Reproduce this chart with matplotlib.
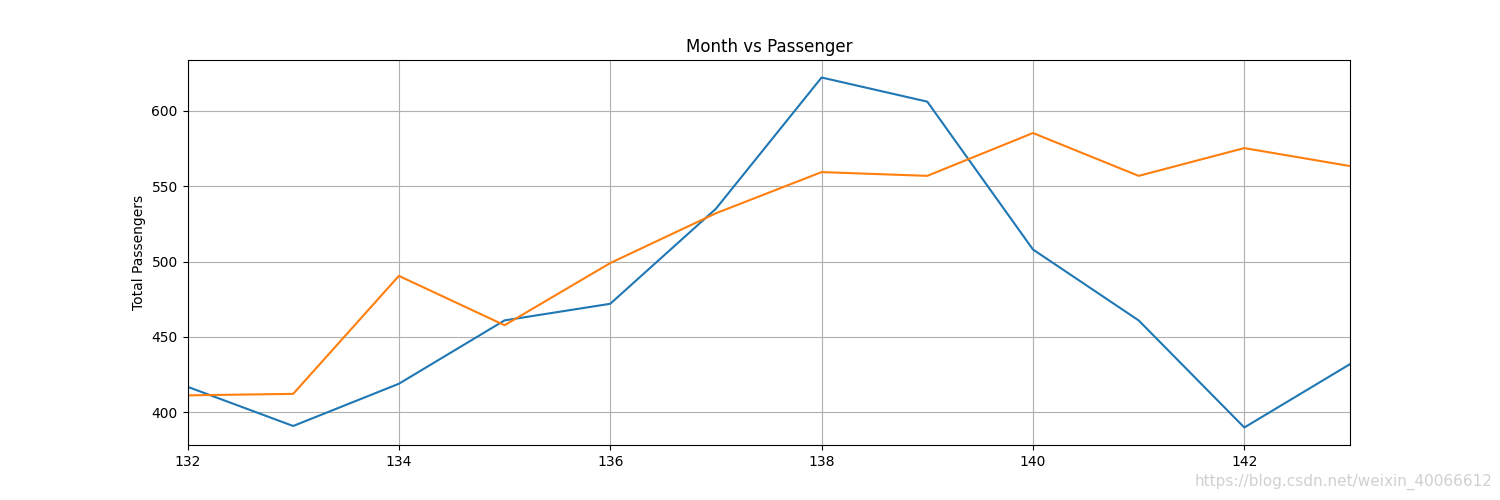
import matplotlib
matplotlib.use('Agg')
import matplotlib.pyplot as plt

month = [132, 133, 134, 135, 136, 137, 138, 139, 140, 141, 142, 143]
passengers = [417, 391, 419, 461, 472, 535, 622, 606, 508, 461, 390, 432]
predicted = [411.3, 412.3, 490.5, 457.8, 499.0, 532.0, 559.3, 556.8, 585.2, 556.8, 575.2, 563.3]

fig = plt.figure(figsize=(15, 5), dpi=100)
plt.plot(month, passengers)
plt.plot(month, predicted)
plt.xlim(132, 143)
plt.title("Month vs Passenger")
plt.ylabel("Total Passengers")
plt.grid(True)
fig.text(0.995, 0.02, "https://blog.csdn.net/weixin_40066612", ha='right', va='bottom',
         color='#d0d0d0', fontsize=11)
plt.savefig('out.png')
